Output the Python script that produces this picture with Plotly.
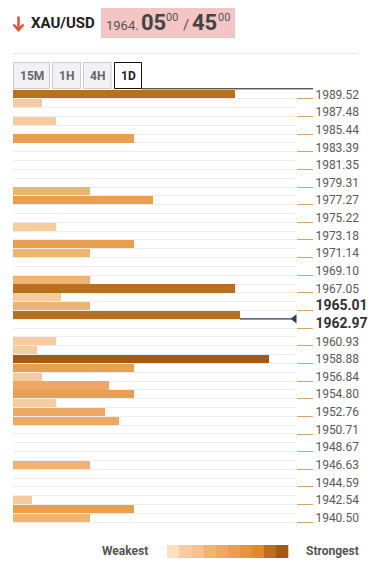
import plotly.graph_objects as go

# ---------------- data ----------------
axis_labels = ["1989.52", "1987.48", "1985.44", "1983.39", "1981.35", "1979.31",
               "1977.27", "1975.22", "1973.18", "1971.14", "1969.10", "1967.05",
               "1965.01", "1962.97", "1960.93", "1958.88", "1956.84", "1954.80",
               "1952.76", "1950.71", "1948.67", "1946.63", "1944.59", "1942.54",
               "1940.50"]
bold_labels = ["1965.01", "1962.97"]

# bottom price of each confluence level that has a bar
level_prices = [1989.52, 1988.50, 1986.46, 1984.41, 1978.29, 1977.27, 1974.20,
                1972.16, 1971.14, 1968.07, 1967.05, 1966.03, 1965.01, 1963.99,
                1960.93, 1959.90, 1958.88, 1957.86, 1956.84, 1955.82, 1954.80,
                1953.78, 1952.76, 1951.74, 1946.63, 1942.54, 1941.52, 1940.50]
# confluence score (bar length)
level_scores = [222, 28.7, 42.7, 121, 77, 140, 42.7,
                121, 77, 77, 222, 48, 77, 227,
                42.7, 23.7, 256, 121, 28.7, 96, 121,
                42.7, 92, 106, 77, 18.7, 121, 77]
# strength class (0 weakest .. 9 strongest)
level_strength = [8, 1, 1, 5, 3, 5, 1,
                  5, 3, 3, 8, 1, 3, 8,
                  1, 1, 9, 5, 1, 4, 5,
                  1, 4, 4, 3, 1, 5, 3]

strength_palette = ["#fbe0c6", "#f6cb9f", "#f3c290", "#efb472", "#eda866",
                    "#e99f4f", "#e6943e", "#e08a2c", "#b8701f", "#a35a17"]

current_price = 1964.05
current_level_score = 227
price_min, price_max = 1940.50, 1989.52
n_label_steps = 48
score_max = 283

# ---------------- layout helpers ----------------
W, H = 376, 570
ML, MR, MT, MB = 13, 80, 90, 39
PW, PH = W - ML - MR, H - MT - MB


def fx(x):
    return (x - ML) / PW


def fy(y):
    return (H - MB - y) / PH


step = (price_max - price_min) / n_label_steps
y_lo = price_min - step
y_hi = price_max + step

fig = go.Figure()

fig.add_trace(go.Bar(
    x=level_scores,
    y=level_prices,
    orientation="h",
    width=step * 0.92,
    offset=step * 0.04,
    marker=dict(color=[strength_palette[s] for s in level_strength], line=dict(width=0)),
    hoverinfo="skip",
    showlegend=False,
))

fig.add_trace(go.Scatter(
    x=[current_level_score, score_max],
    y=[current_price, current_price],
    mode="lines",
    line=dict(color="#2f4159", width=1.2),
    hoverinfo="skip",
    showlegend=False,
    cliponaxis=False,
))
fig.add_trace(go.Scatter(
    x=[score_max - 1.5],
    y=[current_price],
    mode="markers",
    marker=dict(symbol="triangle-left", size=8, color="#2f4159"),
    hoverinfo="skip",
    showlegend=False,
    cliponaxis=False,
))
# invisible trace to activate the tick-mark axis
fig.add_trace(go.Scatter(x=[None], y=[None], yaxis="y2", showlegend=False, hoverinfo="skip"))

ticktext = []
for lab in axis_labels:
    if lab in bold_labels:
        ticktext.append("<b><span style='font-size:14px;fill:#333333'>%s</span></b>" % lab)
    else:
        ticktext.append(lab)

label_pos = [float(v) + step * 0.5 for v in axis_labels]

fig.update_layout(
    yaxis=dict(
        range=[y_lo, y_hi],
        side="right",
        automargin=False,
        tickvals=label_pos,
        ticktext=ticktext,
        ticks="outside",
        ticklen=16,
        tickcolor="rgba(0,0,0,0)",
        tickfont=dict(family="Roboto", size=12, color="#5a5a5a"),
        showgrid=False,
        minor=dict(tick0=price_min, dtick=step, showgrid=True, gridcolor="#eeeeee",
                   gridwidth=1, ticks=""),
        zeroline=False,
        showline=False,
        fixedrange=True,
    ),
    yaxis2=dict(
        range=[y_lo, y_hi],
        overlaying="y",
        side="right",
        automargin=False,
        tickvals=[float(v) for v in axis_labels],
        ticktext=["" for _ in axis_labels],
        ticks="outside",
        ticklen=16,
        tickcolor="#d6a364",
        tickwidth=1,
        showgrid=False,
        zeroline=False,
        showline=False,
        fixedrange=True,
    ),
    xaxis=dict(range=[0, score_max], visible=False, fixedrange=True, automargin=False),
)

shapes = []
annotations = []

# header arrow
shapes.append(dict(type="path", xref="paper", yref="paper",
                   path="M %f %f L %f %f M %f %f L %f %f L %f %f" % (
                       fx(18.5), fy(16.5), fx(18.5), fy(30),
                       fx(13.5), fy(24.5), fx(18.5), fy(30), fx(23.5), fy(24.5)),
                   line=dict(color="#e0553c", width=2.6)))
annotations.append(dict(x=fx(29), y=fy(23), xref="paper", yref="paper",
                        text="<b>XAU/USD</b>", showarrow=False, xanchor="left", yanchor="middle",
                        font=dict(family="Roboto", size=15, color="#222222")))
# price box
shapes.append(dict(type="rect", xref="paper", yref="paper",
                   x0=fx(101), x1=fx(235), y0=fy(38), y1=fy(8),
                   fillcolor="#f3c5c5", line=dict(width=0), layer="below"))
price_parts = [
    ("1964.", 104, 26, 13, False, "#555555"),
    ("05", 139, 22.5, 22, True, "#444444"),
    ("00", 164, 17.5, 11, False, "#555555"),
    ("/", 181, 25, 15, False, "#555555"),
    ("45", 190, 22.5, 22, True, "#444444"),
    ("00", 216, 17.5, 11, False, "#555555"),
]
for txt, x, y, size, bold, col in price_parts:
    annotations.append(dict(x=fx(x), y=fy(y), xref="paper", yref="paper",
                            text="<b>%s</b>" % txt if bold else txt,
                            showarrow=False, xanchor="left", yanchor="middle",
                            font=dict(family="Roboto", size=size, color=col)))
# separator
shapes.append(dict(type="line", xref="paper", yref="paper",
                   x0=fx(13), x1=fx(358), y0=fy(53.5), y1=fy(53.5),
                   line=dict(color="#e6e6e6", width=1)))
# tabs
tabs = [("15M", 13.5, 49.5, False), ("1H", 52.5, 80.5, False),
        ("4H", 83.5, 111, False), ("1D", 114.5, 141.5, True)]
for name, x0, x1, active in tabs:
    shapes.append(dict(type="rect", xref="paper", yref="paper",
                       x0=fx(x0), x1=fx(x1), y0=fy(88.5), y1=fy(62.5),
                       fillcolor="#ffffff" if active else "#f1f1f5",
                       line=dict(color="#111111" if active else "#cccccc", width=1)))
    annotations.append(dict(x=fx((x0 + x1) / 2), y=fy(76), xref="paper", yref="paper",
                            text="<b>%s</b>" % name, showarrow=False,
                            xanchor="center", yanchor="middle",
                            font=dict(family="Roboto", size=12,
                                      color="#222222" if active else "#666666")))
shapes.append(dict(type="line", xref="paper", yref="paper",
                   x0=fx(141.5), x1=fx(313), y0=fy(88.8), y1=fy(88.8),
                   line=dict(color="#111111", width=1)))
# strength legend
annotations.append(dict(x=fx(150), y=fy(551), xref="paper", yref="paper",
                        text="<b>Weakest</b>", showarrow=False, xanchor="right", yanchor="middle",
                        font=dict(family="Roboto", size=12, color="#555555")))
annotations.append(dict(x=fx(304), y=fy(551), xref="paper", yref="paper",
                        text="<b>Strongest</b>", showarrow=False, xanchor="left", yanchor="middle",
                        font=dict(family="Roboto", size=12, color="#555555")))
seg = (288 - 167) / len(strength_palette)
for i, c in enumerate(strength_palette):
    shapes.append(dict(type="rect", xref="paper", yref="paper",
                       x0=fx(167 + i * seg), x1=fx(167 + (i + 1) * seg + 0.3),
                       y0=fy(558), y1=fy(545), fillcolor=c, line=dict(width=0)))

fig.update_layout(
    width=W, height=H,
    margin=dict(l=ML, r=MR, t=MT, b=MB),
    paper_bgcolor="#ffffff",
    plot_bgcolor="#ffffff",
    bargap=0,
    shapes=shapes,
    annotations=annotations,
    font=dict(family="Roboto"),
    showlegend=False,
)

fig.write_html("out.html", config={"displayModeBar": False},
               post_script="document.body.style.margin='0';document.body.style.overflow='hidden';")
